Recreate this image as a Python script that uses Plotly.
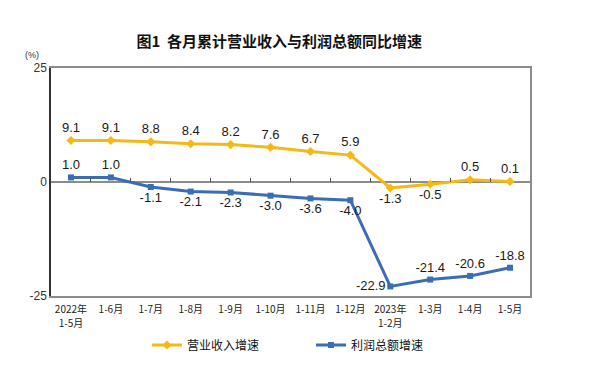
import plotly.graph_objects as go

categories = ["2022年", "1-6月", "1-7月", "1-8月", "1-9月", "1-10月", "1-11月", "1-12月",
              "2023年", "1-3月", "1-4月", "1-5月"]
categories_line2 = ["1-5月", "", "", "", "", "", "", "", "1-2月", "", "", ""]
revenue = [9.1, 9.1, 8.8, 8.4, 8.2, 7.6, 6.7, 5.9, -1.3, -0.5, 0.5, 0.1]
profit = [1.0, 1.0, -1.1, -2.1, -2.3, -3.0, -3.6, -4.0, -22.9, -21.4, -20.6, -18.8]
rev_pos = ["top center"] * 8 + ["bottom center", "bottom center", "top center", "top center"]
pro_pos = ["top center", "top center"] + ["bottom center"] * 6 + ["middle left", "top center", "top center", "top center"]
y_ticks = [-25, 0, 25]

idx = list(range(len(categories)))
YELLOW = "#F5B914"
BLUE = "#3A6DB5"
CJK = "Noto Sans CJK SC"
LAT = "Liberation Sans, Arial"

fig = go.Figure()
fig.add_trace(go.Scatter(
    x=idx, y=revenue, mode="lines+markers+text", name="营业收入增速",
    line=dict(color=YELLOW, width=3), marker=dict(symbol="diamond", size=7, color=YELLOW),
    text=[f"{v:.1f}" for v in revenue], textposition=rev_pos,
    textfont=dict(family=LAT, size=13, color="#1a1a1a"), cliponaxis=False))
fig.add_trace(go.Scatter(
    x=idx, y=profit, mode="lines+markers+text", name="利润总额增速",
    line=dict(color=BLUE, width=3), marker=dict(symbol="square", size=6, color=BLUE),
    text=[f"{v:.1f}" for v in profit], textposition=pro_pos,
    textfont=dict(family=LAT, size=13, color="#1a1a1a"), cliponaxis=False))
# invisible traces to activate overlay axes
fig.add_trace(go.Scatter(x=[0], y=[0], xaxis="x2", yaxis="y2", mode="markers",
                         marker=dict(opacity=0), showlegend=False, hoverinfo="skip"))
fig.add_trace(go.Scatter(x=[0], y=[0], xaxis="x3", yaxis="y", mode="markers",
                         marker=dict(opacity=0), showlegend=False, hoverinfo="skip"))

tickfont_x = dict(family=CJK, size=10, color="#222")
fig.update_layout(
    width=607, height=365,
    margin=dict(l=51, r=77, t=68, b=69),
    paper_bgcolor="white", plot_bgcolor="white",
    title=dict(text="<b>图1  各月累计营业收入与利润总额同比增速</b>", x=0.46, xref="container",
               y=1 - 42 / 365, yanchor="middle", xanchor="center",
               font=dict(family=CJK, size=15, color="#111")),
    xaxis=dict(range=[-0.5, 11.5], tickmode="array", tickvals=idx, ticktext=categories,
               showgrid=False, zeroline=False, showline=True, linecolor="#8c8c8c", linewidth=2,
               mirror=True, ticks="", tickfont=tickfont_x, automargin=False,
               ticklabelstandoff=3),
    xaxis3=dict(overlaying="x", anchor="y", side="bottom", range=[-0.5, 11.5],
                tickmode="array", tickvals=idx, ticktext=categories_line2,
                showgrid=False, zeroline=False, showline=False, ticks="",
                tickfont=tickfont_x, automargin=False, ticklabelstandoff=20),
    yaxis=dict(range=[-25, 25], tickmode="array", tickvals=y_ticks, ticktext=["-25", "0", "25"],
               showgrid=False, zeroline=True, zerolinecolor="#8c8c8c", zerolinewidth=2,
               showline=True, linecolor="#333", linewidth=1.5, ticks="", automargin=False,
               tickfont=dict(family=LAT, size=12, color="#333")),
    xaxis2=dict(overlaying="x", anchor="free", position=0.5, range=[-0.5, 11.5],
                tickmode="array", tickvals=[i + 0.5 for i in idx], ticks="inside", ticklen=4,
                tickcolor="#555", tickwidth=1, showticklabels=False, showline=False,
                showgrid=False, zeroline=False),
    yaxis2=dict(overlaying="y", side="right", range=[-25, 25], showline=True,
                linecolor="#8c8c8c", linewidth=2, showticklabels=False, ticks="",
                showgrid=False, zeroline=False),
    legend=dict(orientation="h", xref="container", yref="container",
                x=147 / 607, xanchor="left", y=1 - 345 / 365, yanchor="middle",
                font=dict(family=CJK, size=12, color="#111"), itemwidth=30,
                entrywidth=119, entrywidthmode="pixels"),
    annotations=[dict(text="(%)", xref="paper", yref="paper", x=-0.02, y=1.057,
                      xanchor="right", yanchor="middle", showarrow=False,
                      font=dict(family=LAT, size=9, color="#333"))],
)

fig.write_html("out.html", config={"displayModeBar": False},
               post_script="document.body.style.margin='0';document.body.style.padding='0';")
